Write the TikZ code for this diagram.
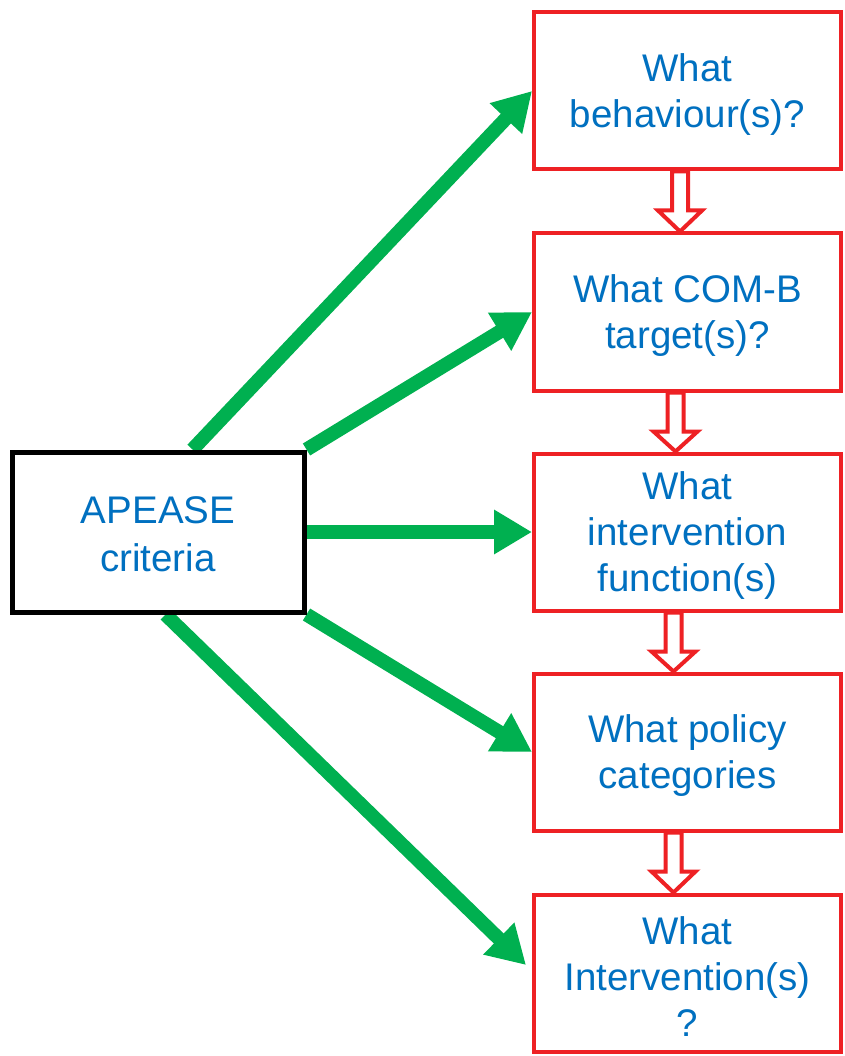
\documentclass[tikz,border=0pt]{standalone}
\usepackage{fontspec}
\setmainfont{Liberation Sans}
\usetikzlibrary{arrows.meta,calc,backgrounds}
\definecolor{txtblue}{HTML}{0070C0}
\definecolor{boxred}{HTML}{EE2124}
\definecolor{arrgreen}{HTML}{00B050}
\tikzset{
  qbox/.style={draw=boxred, line width=4pt, fill=white, minimum width=307pt, minimum height=157pt, inner sep=0pt},
  abox/.style={draw=black, line width=5pt, fill=white, minimum width=292pt, minimum height=160pt, inner sep=0pt},
  qtext/.style={align=center, text=txtblue, font=\fontsize{38.5}{46}\selectfont, inner sep=0pt, yshift=-4pt},
  atext/.style={align=center, text=txtblue, font=\fontsize{38.5}{48}\selectfont, inner sep=0pt, yshift=-2pt},
  garrow/.style={draw=arrgreen, line width=14pt, -{Triangle[length=38pt,width=42pt]}},
  hollow/.style={draw=boxred, fill=white, line width=4pt, line join=miter}
}
\begin{document}
\begin{tikzpicture}[x=1pt,y=-1pt]
\useasboundingbox (0,0) rectangle (844,1056);
\node[abox, label={[atext]center:{APEASE\\criteria}}] (a) at (158,532) {};
\node[qbox, label={[qtext]center:{What\\behaviour(s)?}}] (b1) at (687.5,91) {};
\node[qbox, label={[qtext]center:{What COM-B\\target(s)?}}] (b2) at (687.5,312) {};
\node[qbox, label={[qtext]center:{What\\intervention\\function(s)}}] (b3) at (687.5,532) {};
\node[qbox, label={[qtext]center:{What policy\\categories}}] (b4) at (687.5,752) {};
\node[qbox, label={[qtext]center:{What\\Intervention(s)\\?}}] (b5) at (687.5,973) {};
\begin{pgfonlayer}{background}
\coordinate (s1) at ($(a.north west)+(183,0)$);
\coordinate (s5) at ($(a.south west)+(156,0)$);
\draw[garrow] (s1) -- (b1.west);
\draw[garrow] (a.north east) -- (b2.west);
\draw[garrow] (a.east) -- (b3.west);
\draw[garrow] (a.south east) -- (b4.west);
\draw[garrow] (s5) -- ($(b5.west)+(-6,-8)$);
\end{pgfonlayer}
\foreach \u/\v/\dx in {b1/b2/-7.5,b2/b3/-12,b3/b4/-14,b4/b5/-14}{
  \draw[hollow] ($(\u.south)+(\dx-8,0)$) -- ($(\u.south)+(\dx-8,39)$) -- ($(\u.south)+(\dx-22,39)$)
    -- ($(\v.north)+(\dx,0)$) -- ($(\u.south)+(\dx+22,39)$) -- ($(\u.south)+(\dx+8,39)$)
    -- ($(\u.south)+(\dx+8,0)$) -- cycle;
}
\end{tikzpicture}
\end{document}
